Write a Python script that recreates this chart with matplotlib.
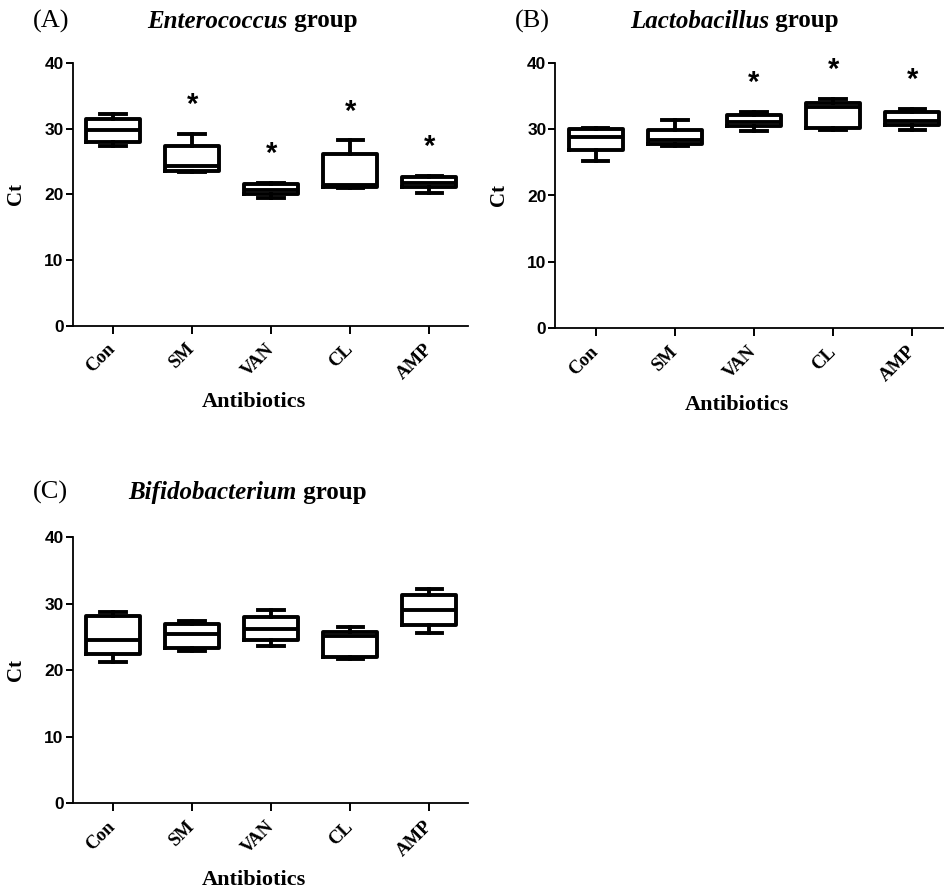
import matplotlib
matplotlib.use('Agg')
import matplotlib.pyplot as plt

groups = ['Con', 'SM', 'VAN', 'CL', 'AMP']

# whislo, q1, median, q3, whishi for each antibiotic
entero = [
    [27.4, 27.9, 29.75, 31.4, 32.2],
    [23.4, 23.6, 24.3, 27.4, 29.2],
    [19.5, 20.1, 20.7, 21.5, 21.7],
    [21.0, 21.1, 21.4, 26.1, 28.2],
    [20.2, 21.1, 21.7, 22.65, 22.8],
]
lacto = [
    [25.2, 26.8, 28.8, 30.0, 30.1],
    [27.4, 27.7, 28.3, 29.9, 31.4],
    [29.7, 30.4, 31.1, 32.1, 32.5],
    [29.9, 30.1, 33.3, 34.0, 34.5],
    [29.9, 30.6, 31.2, 32.5, 33.0],
]
bifido = [
    [21.2, 22.4, 24.5, 28.2, 28.8],
    [22.9, 23.4, 25.5, 27.0, 27.4],
    [23.7, 24.6, 26.2, 28.0, 29.0],
    [21.7, 22.0, 25.1, 25.8, 26.5],
    [25.6, 26.8, 29.0, 31.3, 32.3],
]
sig_entero = [False, True, True, True, True]
sig_lacto = [False, False, True, True, True]
sig_bifido = [False, False, False, False, False]

SERIF = 'Liberation Serif'
SANS = 'Liberation Sans'

fig = plt.figure(figsize=(9.45, 8.93), dpi=100)
W, H = 945.0, 893.0


def px_axes(x0, y0, x1, y1):
    return fig.add_axes([x0 / W, 1 - y1 / H, (x1 - x0) / W, (y1 - y0) / H])


def box_panel(ax, data, sig):
    stats = []
    for name, (lo, q1, med, q3, hi) in zip(groups, data):
        stats.append(dict(label=name, whislo=lo, q1=q1, med=med, q3=q3, whishi=hi))
    lp = dict(color='black', linewidth=2.8)
    ax.bxp(stats, positions=range(1, 6), widths=0.68, capwidths=0.32,
           showfliers=False, boxprops=lp, medianprops=lp,
           whiskerprops=lp, capprops=lp)
    for i, (row, s) in enumerate(zip(data, sig)):
        if s:
            ax.text(i + 1, row[4] + 4.4, '*', ha='center', va='center',
                    fontsize=21, fontweight='bold', family=SANS)
    ax.set_xlim(0.49, 5.49)
    ax.set_ylim(0, 40)
    ax.set_yticks([0, 10, 20, 30, 40])
    ax.spines['top'].set_visible(False)
    ax.spines['right'].set_visible(False)
    ax.spines['left'].set_linewidth(1.3)
    ax.spines['bottom'].set_linewidth(1.3)
    ax.tick_params(axis='y', length=5, width=1.4, pad=1.5)
    ax.tick_params(axis='x', length=5.8, width=1.4, pad=2)
    for t in ax.get_yticklabels():
        t.set_family(SANS)
        t.set_fontweight('bold')
        t.set_fontsize(12.5)
    ax.set_xticks(range(1, 6))
    ax.set_xticklabels(groups, rotation=45, ha='right', va='center',
                       rotation_mode='anchor', family=SERIF,
                       fontweight='bold', fontsize=13.5)
    for t in ax.get_xticklabels():
        t.set_y(-0.038)
    ax.set_ylabel('Ct', family=SERIF, fontweight='bold', fontsize=15)
    ax.yaxis.set_label_coords(-0.118, 0.5)
    ax.set_xlabel('Antibiotics', family=SERIF, fontweight='bold', fontsize=16)
    ax.xaxis.set_label_coords(0.459, -0.29)
    ax.xaxis.label.set_va('center')


def panel_title(letter, lx, xc, yc, italic):
    r = fig.canvas.get_renderer()
    fig.text(lx / W, 1 - yc / H, letter, family=SERIF, fontsize=19,
             ha='left', va='center')
    t1 = fig.text(0, 1 - yc / H, italic, family=SERIF, style='italic',
                  fontweight='bold', fontsize=18, ha='left', va='center')
    t2 = fig.text(0, 1 - yc / H, ' group', family=SERIF,
                  fontweight='bold', fontsize=18, ha='left', va='center')
    w1 = t1.get_window_extent(r).width
    w2 = t2.get_window_extent(r).width
    x0 = xc - (w1 + w2) / 2
    t1.set_x(x0 / W)
    t2.set_x((x0 + w1) / W)


axA = px_axes(72.7, 63, 468, 325.7)
axB = px_axes(555.5, 62.7, 951, 328.3)
axC = px_axes(72.7, 537.3, 468, 803.3)

box_panel(axA, entero, sig_entero)
box_panel(axB, lacto, sig_lacto)
box_panel(axC, bifido, sig_bifido)

panel_title('(A)', 33, 252.5, 21, 'Enterococcus')
panel_title('(B)', 515, 734.5, 21, 'Lactobacillus')
panel_title('(C)', 33, 247.5, 492, 'Bifidobacterium')

fig.savefig('out.png', dpi=100)
